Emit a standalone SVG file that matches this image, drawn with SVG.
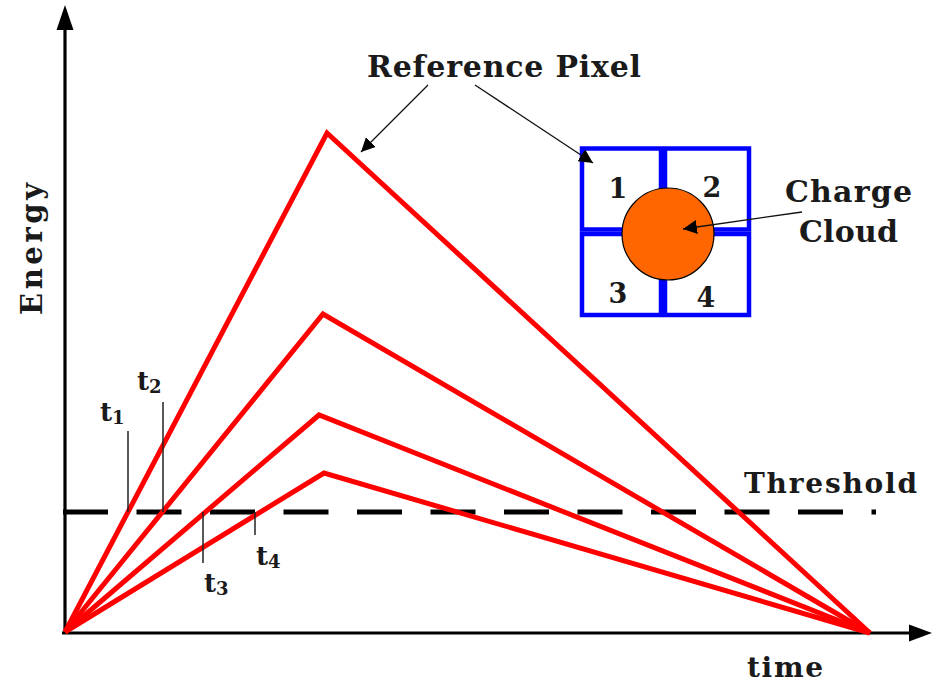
<svg xmlns="http://www.w3.org/2000/svg" width="932" height="688" viewBox="0 0 932 688">
<style>
.lbl{font-family:"DejaVu Serif","Liberation Serif",serif;font-weight:bold;fill:#1a1a1a}
.red{fill:none;stroke:#ff0000;stroke-width:5;stroke-linejoin:miter}
.tick{stroke:#222;stroke-width:1.5}
.pix{fill:#fff;stroke:#0000ff;stroke-width:4.5}
.ptr{stroke:#111;stroke-width:1.3;fill:none}
</style>
<defs>
<marker id="ah" viewBox="0 0 10 10" refX="10" refY="5" markerWidth="14" markerHeight="14" markerUnits="userSpaceOnUse" orient="auto">
<path d="M0,0 L10,5 L0,10 z" fill="#000"/>
</marker>
</defs>
<rect width="932" height="688" fill="#fff"/>
<g id="axes">
<line x1="65" y1="634" x2="65" y2="28" stroke="#000" stroke-width="3.2"/>
<polygon points="65,5 56.5,30 73.5,30" fill="#000"/>
<line x1="62" y1="633" x2="912" y2="633" stroke="#000" stroke-width="3.2"/>
<polygon points="932,633 909,624.5 909,641.5" fill="#000"/>
</g>
<g id="threshold">
<line x1="63" y1="512" x2="876" y2="512" stroke="#000" stroke-width="5" stroke-dasharray="45 28.5"/>
<text class="lbl" x="744" y="493" font-size="28" textLength="173" lengthAdjust="spacing">Threshold</text>
</g>
<g id="curves">
<polyline class="red" points="65,632 327,133 870,633"/>
<polyline class="red" points="65,632 323,314 870,633"/>
<polyline class="red" points="65,632 319,415 870,633"/>
<polyline class="red" points="65,632 324,473 870,633"/>
</g>
<g id="ticks">
<line class="tick" x1="128" y1="431" x2="128" y2="512"/>
<line class="tick" x1="163" y1="402" x2="163" y2="512"/>
<line class="tick" x1="203" y1="512" x2="203" y2="563"/>
<line class="tick" x1="255" y1="512" x2="255" y2="535"/>
<text class="lbl" x="100" y="421" font-size="26">t<tspan font-size="18" dy="3">1</tspan></text>
<text class="lbl" x="137" y="390" font-size="26">t<tspan font-size="18" dy="3">2</tspan></text>
<text class="lbl" x="204" y="592" font-size="26">t<tspan font-size="18" dy="3">3</tspan></text>
<text class="lbl" x="256" y="565" font-size="26">t<tspan font-size="18" dy="3">4</tspan></text>
</g>
<g id="pixel">
<rect class="pix" x="582" y="148.5" width="79" height="81"/>
<rect class="pix" x="665" y="148.5" width="84" height="81"/>
<rect class="pix" x="582" y="234" width="79" height="81"/>
<rect class="pix" x="665" y="234" width="84" height="81"/>
<text class="lbl" x="618" y="198" font-size="27" text-anchor="middle">1</text>
<text class="lbl" x="712" y="197" font-size="27" text-anchor="middle">2</text>
<text class="lbl" x="618" y="303" font-size="27" text-anchor="middle">3</text>
<text class="lbl" x="706" y="307" font-size="27" text-anchor="middle">4</text>
</g>
<g id="charge-cloud">
<circle cx="668" cy="234" r="46" fill="#ff6600" stroke="#000" stroke-width="1.2"/>
<text class="lbl" x="785" y="202" font-size="30" textLength="127" lengthAdjust="spacing">Charge</text>
<text class="lbl" x="799" y="242" font-size="30" textLength="99" lengthAdjust="spacing">Cloud</text>
</g>
<g id="labels">
<text class="lbl" x="367" y="77" font-size="30" textLength="274" lengthAdjust="spacing">Reference Pixel</text>
<text class="lbl" transform="translate(42,315) rotate(-90)" font-size="29" textLength="132" lengthAdjust="spacing">Energy</text>
<text class="lbl" x="747" y="677" font-size="28" textLength="76" lengthAdjust="spacing">time</text>
</g>
<g id="connectors">
<line class="ptr" x1="428" y1="85" x2="361" y2="152" marker-end="url(#ah)"/>
<line class="ptr" x1="475" y1="85" x2="593" y2="163" marker-end="url(#ah)"/>
<line class="ptr" x1="802" y1="212" x2="683" y2="229" marker-end="url(#ah)"/>
</g>
</svg>
